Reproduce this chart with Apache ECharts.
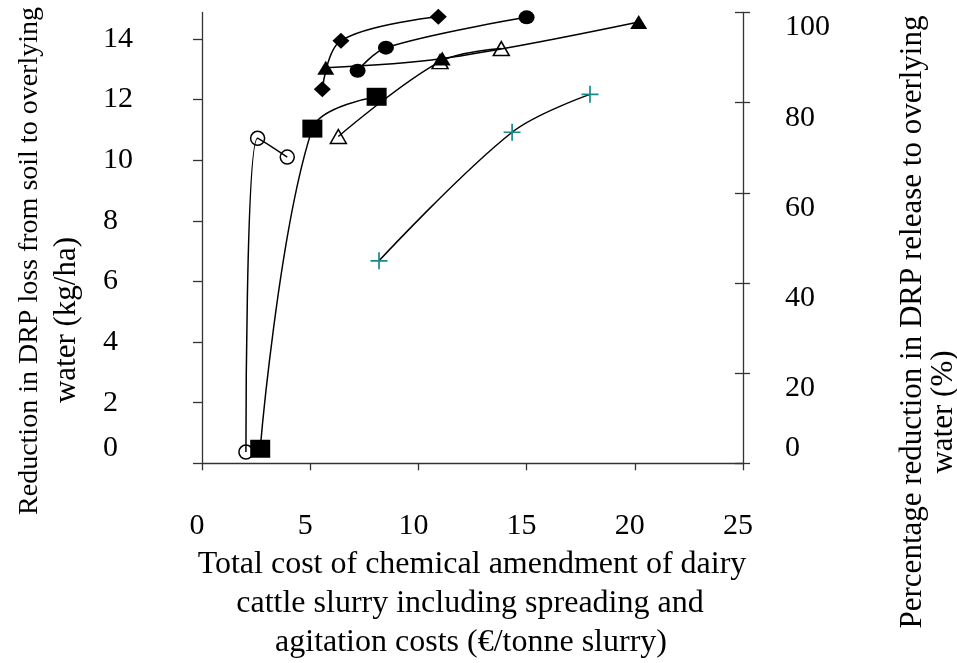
<!DOCTYPE html>
<html>
<head>
<meta charset="utf-8">
<script src="https://cdn.jsdelivr.net/npm/echarts@6/dist/echarts.min.js"></script>
<style>
  html, body { margin: 0; padding: 0; background: #fff; }
  #main { width: 957px; height: 663px; }
</style>
</head>
<body>
<div id="main"></div>
<script>
// cost (€/tonne slurry) and DRP reduction (kg/ha)
const costOpenCircle = [2.03, 2.57, 3.94]
const drpOpenCircle = [0.37, 10.72, 10.10]
const costSquare = [2.69, 5.10, 8.07]
const drpSquare = [0.48, 11.04, 12.09]
const costOpenTriangle = [6.30, 11.0, 13.83]
const drpOpenTriangle = [10.78, 13.25, 13.68]
const costTriangle = [5.72, 11.10, 20.18]
const drpTriangle = [13.05, 13.35, 14.56]
const costCircle = [7.19, 8.50, 15.0]
const drpCircle = [12.95, 13.71, 14.71]
const costDiamond = [5.56, 6.42, 10.92]
const drpDiamond = [12.34, 13.94, 14.73]
const costCross = [8.18, 14.33, 17.93]
const drpCross = [6.68, 10.92, 12.17]

const leftTicks = [0, 2, 4, 6, 8, 10, 12, 14]
const rightTicks = [0, 20, 40, 60, 80, 100]
const xTicks = [0, 5, 10, 15, 20, 25]

const font = '"Liberation Serif", "Times New Roman", serif'
const zip = (xs, ys) => xs.map((x, i) => [x, ys[i]])

const chart = echarts.init(document.getElementById('main'))

const makeSeries = (xs, ys, symbol, size, itemStyle) => ({
  type: 'line',
  data: zip(xs, ys),
  smooth: 0.35,
  symbol: symbol,
  symbolSize: size,
  showSymbol: true,
  lineStyle: { color: '#000', width: 1.5 },
  itemStyle: itemStyle,
  emphasis: { disabled: true },
  yAxisIndex: 0
})

const filled = { color: '#000', borderWidth: 0 }
const hollow = { color: 'rgba(0,0,0,0)', borderColor: '#000', borderWidth: 1.5 }
const crossPath = 'path://M0,7.2H16V8.8H0Z M7.2,0H8.8V16H7.2Z'

const axisLine = { show: true, lineStyle: { color: '#333', width: 1.3 } }
const tickStyle = { color: '#333', width: 1.3 }

chart.setOption({
  animation: false,
  backgroundColor: '#fff',
  grid: { left: 202, right: 214, top: 12.5, bottom: 199.7, containLabel: false, outerBoundsMode: 'none' },
  xAxis: {
    type: 'value',
    min: 0,
    max: 25,
    interval: 5,
    axisLine: axisLine,
    axisTick: { show: true, inside: false, length: 7, customValues: xTicks, lineStyle: tickStyle },
    axisLabel: { color: '#000', fontFamily: font, fontSize: 30, margin: 48, padding: [0, 10, 0, 0], customValues: xTicks },
    splitLine: { show: false }
  },
  yAxis: [
    {
      type: 'value',
      position: 'left',
      min: 0,
      max: 14.87,
      axisLine: axisLine,
      axisTick: { show: true, inside: false, length: 9, customValues: leftTicks, lineStyle: tickStyle },
      axisLabel: {
        color: '#000', fontFamily: font, fontSize: 30, align: 'left', margin: 99,
        customValues: leftTicks, verticalAlignMinLabel: 'bottom', padding: [0, 0, 0, 0]
      },
      splitLine: { show: false }
    },
    {
      type: 'value',
      position: 'right',
      min: 0,
      max: 100,
      interval: 20,
      axisLine: axisLine,
      axisTick: { show: true, inside: false, length: 7, lineStyle: tickStyle },
      axisLabel: {
        color: '#000', fontFamily: font, fontSize: 30, margin: 42,
        customValues: rightTicks, verticalAlign: 'top', verticalAlignMinLabel: 'bottom'
      },
      splitLine: { show: false }
    },
    {
      // inner half of the cross ticks on the right axis
      type: 'value',
      position: 'right',
      min: 0,
      max: 100,
      interval: 20,
      axisLine: { show: false },
      axisTick: { show: true, inside: true, length: 8, lineStyle: tickStyle },
      axisLabel: { show: false },
      splitLine: { show: false }
    }
  ],
  graphic: [
    { type: 'text', x: 30, y: 261, rotation: Math.PI / 2,
      style: { text: 'Reduction in DRP loss from soil to overlying', font: '28px ' + font, fill: '#000', align: 'center', verticalAlign: 'middle' } },
    { type: 'text', x: 67, y: 320, rotation: Math.PI / 2,
      style: { text: 'water (kg/ha)', font: '31px ' + font, fill: '#000', align: 'center', verticalAlign: 'middle' } },
    { type: 'text', x: 913, y: 322, rotation: Math.PI / 2,
      style: { text: 'Percentage reduction in DRP release to overlying', font: '31px ' + font, fill: '#000', align: 'center', verticalAlign: 'middle' } },
    { type: 'text', x: 944, y: 412, rotation: Math.PI / 2,
      style: { text: 'water (%)', font: '31px ' + font, fill: '#000', align: 'center', verticalAlign: 'middle' } },
    { type: 'text', x: 472, y: 565,
      style: { text: 'Total cost of chemical amendment of dairy', font: '32px ' + font, fill: '#000', align: 'center', verticalAlign: 'middle' } },
    { type: 'text', x: 470, y: 604,
      style: { text: 'cattle slurry including spreading and', font: '32px ' + font, fill: '#000', align: 'center', verticalAlign: 'middle' } },
    { type: 'text', x: 471, y: 643,
      style: { text: 'agitation costs (€/tonne slurry)', font: '32px ' + font, fill: '#000', align: 'center', verticalAlign: 'middle' } }
  ],
  series: [
    makeSeries(costOpenCircle, drpOpenCircle, 'circle', 14, hollow),
    makeSeries(costSquare, drpSquare, 'rect', [20, 18], filled),
    makeSeries(costOpenTriangle, drpOpenTriangle, 'triangle', [16, 14], hollow),
    makeSeries(costTriangle, drpTriangle, 'triangle', [17, 14], filled),
    makeSeries(costCircle, drpCircle, 'circle', [16, 14], filled),
    makeSeries(costDiamond, drpDiamond, 'diamond', [17, 16], filled),
    makeSeries(costCross, drpCross, crossPath, 17, { color: '#178a8a', borderWidth: 0 })
  ]
})
</script>
</body>
</html>
